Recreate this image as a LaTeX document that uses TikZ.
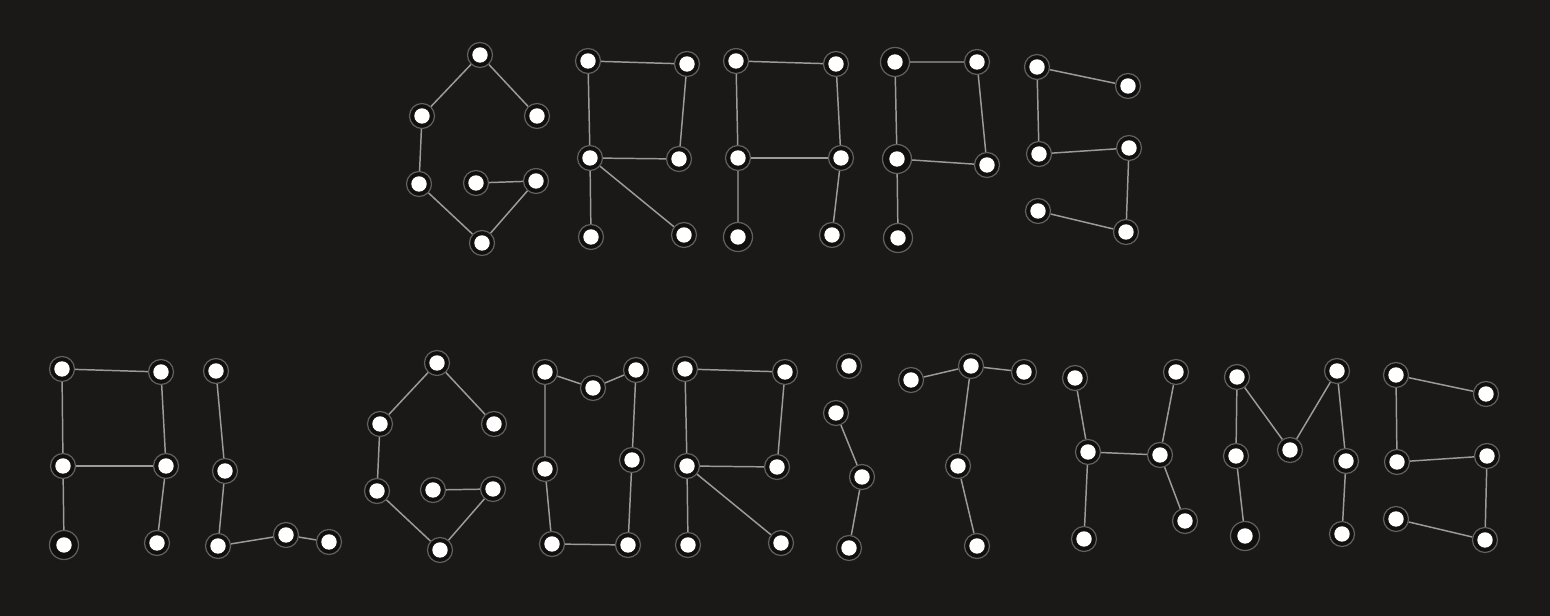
\documentclass[tikz,border=0pt]{standalone}
\usepackage{tikz}
\usepackage{xcolor}
\definecolor{bgdark}{RGB}{26,25,24}
\definecolor{ringfill}{RGB}{17,16,15}
\definecolor{ringline}{RGB}{96,96,96}
\definecolor{edgegray}{RGB}{155,155,155}

\begin{document}
\begin{tikzpicture}[
    x=0.01cm, y=-0.01cm,
    every node/.style={circle, draw=ringline, fill=ringfill, line width=0.35pt,
        inner sep=0pt, minimum size=0.25cm,
        path picture={\fill[white] (path picture bounding box.center) circle (0.077cm);}},
    bigvert/.style={minimum size=0.29cm},
    link/.style={draw=edgegray, line width=0.42pt}
]
  \fill[bgdark] (0,0) rectangle (1550,616);
  \useasboundingbox (0,0) rectangle (1550,616);

  % Top row: G
  \node (g1) at (480,55) {};
  \node (g2) at (422,116) {};
  \node (g3) at (537,116) {};
  \node (g4) at (419,184) {};
  \node (g5) at (476,183) {};
  \node (g6) at (536,181) {};
  \node (g7) at (482,243) {};
  % Top row: R
  \node (r1) at (588,61) {};
  \node (r2) at (687,64) {};
  \node (r3) at (590,158) {};
  \node (r4) at (679,159) {};
  \node (r5) at (591,237) {};
  \node (r6) at (684,235) {};
  % Top row: A
  \node (a1) at (736,61) {};
  \node (a2) at (836,64) {};
  \node (a3) at (738,158) {};
  \node (a4) at (841,158) {};
  \node[bigvert] (a5) at (738,237) {};
  \node (a6) at (832,235) {};
  % Top row: P
  \node[bigvert] (p1) at (895,62) {};
  \node (p2) at (977,62) {};
  \node[bigvert] (p3) at (897,159) {};
  \node (p4) at (987,165) {};
  \node[bigvert] (p5) at (898,238) {};
  % Top row: last letter
  \node (e1) at (1037,67) {};
  \node (e2) at (1128,86) {};
  \node (e3) at (1039,154) {};
  \node (e4) at (1129,148) {};
  \node (e5) at (1038,211) {};
  \node (e6) at (1126,232) {};

  % Bottom row: A
  \node (A1) at (62,369) {};
  \node (A2) at (161,372) {};
  \node (A3) at (63,466) {};
  \node (A4) at (166,466) {};
  \node[bigvert] (A5) at (64,545) {};
  \node (A6) at (157,543) {};
  % Bottom row: L
  \node (L1) at (216,371) {};
  \node (L2) at (225,471) {};
  \node (L3) at (218,546) {};
  \node (L4) at (286,535) {};
  \node (L5) at (329,542) {};
  % Bottom row: G
  \node (G1) at (437,363) {};
  \node (G2) at (380,424) {};
  \node (G3) at (494,424) {};
  \node (G4) at (377,491) {};
  \node (G5) at (433,490) {};
  \node (G6) at (493,489) {};
  \node (G7) at (440,550) {};
  % Bottom row: O
  \node (O1) at (545,372) {};
  \node (O2) at (593,388) {};
  \node (O3) at (636,370) {};
  \node (O4) at (545,469) {};
  \node (O5) at (632,460) {};
  \node (O6) at (552,544) {};
  \node (O7) at (628,545) {};
  % Bottom row: R
  \node (R1) at (685,369) {};
  \node (R2) at (785,372) {};
  \node (R3) at (687,466) {};
  \node (R4) at (777,467) {};
  \node (R5) at (688,545) {};
  \node (R6) at (781,543) {};
  % Bottom row: I
  \node (I1) at (849,366) {};
  \node (I2) at (836,413) {};
  \node (I3) at (862,477) {};
  \node (I4) at (849,548) {};
  % Bottom row: T
  \node (T1) at (911,380) {};
  \node (T2) at (971,366) {};
  \node (T3) at (1024,372) {};
  \node (T4) at (958,466) {};
  \node (T5) at (977,546) {};
  % Bottom row: H
  \node (H1) at (1075,378) {};
  \node (H2) at (1176,372) {};
  \node (H3) at (1088,452) {};
  \node (H4) at (1160,455) {};
  \node (H5) at (1084,539) {};
  \node (H6) at (1185,521) {};
  % Bottom row: M
  \node (M1) at (1237,377) {};
  \node (M2) at (1236,456) {};
  \node (M3) at (1290,450) {};
  \node (M4) at (1337,371) {};
  \node (M5) at (1346,461) {};
  \node[bigvert] (M6) at (1245,536) {};
  \node (M7) at (1342,534) {};
  % Bottom row: S
  \node (S1) at (1396,375) {};
  \node (S2) at (1486,394) {};
  \node (S3) at (1397,462) {};
  \node (S4) at (1487,456) {};
  \node (S5) at (1396,519) {};
  \node (S6) at (1485,540) {};

  % Top row edges
  \draw[link] (g3)--(g1)--(g2)--(g4)--(g7)--(g6)--(g5);
  \draw[link] (r5)--(r3)--(r1)--(r2)--(r4)--(r3)--(r6);
  \draw[link] (a5)--(a3)--(a1)--(a2)--(a4)--(a6);
  \draw[link] (a3)--(a4);
  \draw[link] (p5)--(p3)--(p1)--(p2)--(p4)--(p3);
  \draw[link] (e2)--(e1)--(e3)--(e4)--(e6)--(e5);

  % Bottom row edges
  \draw[link] (A5)--(A3)--(A1)--(A2)--(A4)--(A6);
  \draw[link] (A3)--(A4);
  \draw[link] (L1)--(L2)--(L3)--(L4)--(L5);
  \draw[link] (G3)--(G1)--(G2)--(G4)--(G7)--(G6)--(G5);
  \draw[link] (O2)--(O1)--(O4)--(O6)--(O7)--(O5)--(O3)--(O2);
  \draw[link] (R5)--(R3)--(R1)--(R2)--(R4)--(R3)--(R6);
  \draw[link] (I2)--(I3)--(I4);
  \draw[link] (T1)--(T2)--(T3);
  \draw[link] (T2)--(T4)--(T5);
  \draw[link] (H1)--(H3)--(H5);
  \draw[link] (H2)--(H4)--(H6);
  \draw[link] (H3)--(H4);
  \draw[link] (M6)--(M2)--(M1)--(M3)--(M4)--(M5)--(M7);
  \draw[link] (S2)--(S1)--(S3)--(S4)--(S6)--(S5);
\end{tikzpicture}
\end{document}
